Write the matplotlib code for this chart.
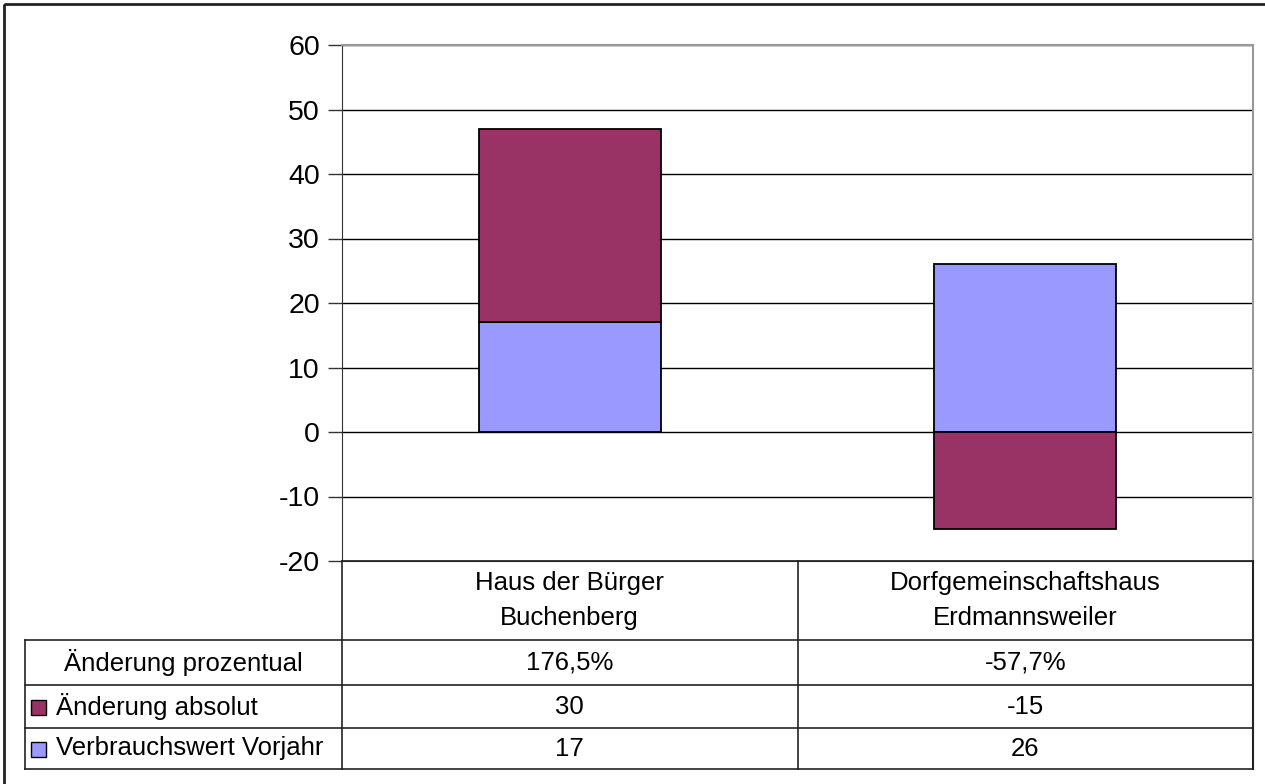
import numpy as np
import matplotlib
matplotlib.use('Agg')
import matplotlib.pyplot as plt
from matplotlib.patches import Rectangle

plt.rcParams['font.family'] = ['Liberation Sans', 'DejaVu Sans']
plt.rcParams['axes.unicode_minus'] = False

# data
categories = ['Haus der Bürger\nBuchenberg', 'Dorfgemeinschaftshaus\nErdmannsweiler']
series_names = ['Änderung prozentual', 'Änderung absolut', 'Verbrauchswert Vorjahr']
prozentual = ['176,5%', '-57,7%']
absolut = [30, -15]
vorjahr = [17, 26]

c_abs = '#993366'
c_vor = '#9999FF'

W, H = 1265, 784
fig = plt.figure(figsize=(W / 100, H / 100), dpi=100)

# pixel layout
px_left, px_right, px_top, px_bot = 342, 1253, 45, 561
tbl_left = 25
row_edges = [561, 640, 685, 728, 769]

ax = fig.add_axes([px_left / W, 1 - px_bot / H, (px_right - px_left) / W, (px_bot - px_top) / H])
x = np.arange(len(categories))
vor = np.array(vorjahr)
ab = np.array(absolut)
ab_bottom = np.where(ab >= 0, vor, 0)
ax.bar(x, vor, width=0.4, color=c_vor, edgecolor='black', linewidth=1.3, zorder=3)
ax.bar(x, ab, bottom=ab_bottom, width=0.4, color=c_abs, edgecolor='black', linewidth=1.3, zorder=3)

ax.set_xlim(-0.5, len(categories) - 0.5)
ax.set_ylim(-20, 60)
ax.set_yticks(np.arange(-20, 61, 10))
ax.yaxis.grid(True, color='black', linewidth=1)
ax.set_axisbelow(True)
ax.set_xticks([])
ax.tick_params(axis='y', labelsize=20.5, length=10, width=1, color='#333333', pad=6)
for s in ['top', 'right']:
    ax.spines[s].set_color('#999999')
    ax.spines[s].set_linewidth(1.5)
ax.spines['left'].set_color('#333333')
ax.spines['bottom'].set_color('#333333')

# overlay for data table and frame
ov = fig.add_axes([0, 0, 1, 1])
ov.set_xlim(0, W)
ov.set_ylim(H, 0)
ov.axis('off')
ov.patch.set_alpha(0)

# outer frame
ov.add_patch(Rectangle((4, 4), W + 10, H + 10, fill=False, edgecolor='#222222', linewidth=2))

lc = '#222222'
col_mid = (px_left + px_right) / 2
# horizontal lines
ov.plot([px_left, px_right], [row_edges[0]] * 2, color=lc, lw=1.2)
for yv in row_edges[1:]:
    ov.plot([tbl_left, px_right], [yv, yv], color=lc, lw=1.2)
# vertical lines
ov.plot([tbl_left, tbl_left], [row_edges[1], row_edges[-1]], color=lc, lw=1.2)
ov.plot([px_left, px_left], [row_edges[0], row_edges[-1]], color=lc, lw=1.2)
ov.plot([col_mid, col_mid], [row_edges[0], row_edges[-1]], color=lc, lw=1.2)
ov.plot([px_right, px_right], [row_edges[0], row_edges[-1]], color=lc, lw=1.5)

fs = 18.5
centers = [(px_left + col_mid) / 2, (col_mid + px_right) / 2]
for cx, cat in zip(centers, categories):
    ov.text(cx, (row_edges[0] + row_edges[1]) / 2, cat, ha='center', va='center',
            fontsize=fs, linespacing=1.55)

rows = [prozentual, absolut, vorjahr]
swatches = [None, c_abs, c_vor]
for i, (name, vals, sw) in enumerate(zip(series_names, rows, swatches)):
    yc = (row_edges[i + 1] + row_edges[i + 2]) / 2
    if sw is None:
        ov.text((tbl_left + px_left) / 2, yc, name, ha='center', va='center', fontsize=fs)
    else:
        ov.add_patch(Rectangle((31, yc - 7), 15, 15, facecolor=sw, edgecolor='black', linewidth=1))
        ov.text(56, yc, name, ha='left', va='center', fontsize=fs)
    for cx, v in zip(centers, vals):
        ov.text(cx, yc, str(v), ha='center', va='center', fontsize=fs)

fig.savefig('out.png', dpi=100, facecolor='white')
